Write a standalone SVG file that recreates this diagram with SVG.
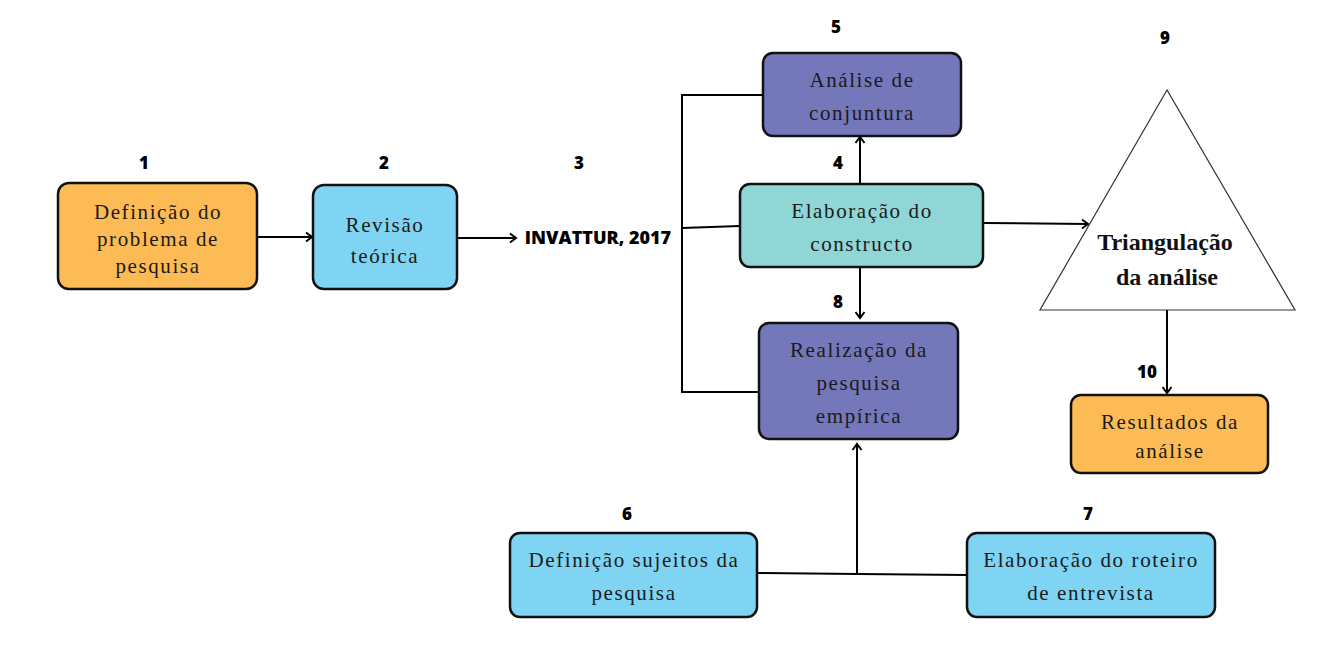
<svg xmlns="http://www.w3.org/2000/svg" width="1341" height="665" viewBox="0 0 1341 665">
<defs>
<marker id="arr" markerWidth="12" markerHeight="12" refX="9" refY="6" orient="auto" markerUnits="userSpaceOnUse">
<path d="M3,1.5 L9,6 L3,10.5" fill="none" stroke="#000" stroke-width="2"/>
</marker>
<style>
.box{stroke:#111;stroke-width:2.5}
.orange{fill:#FDBB55}
.blue{fill:#7FD4F3}
.purple{fill:#7478BB}
.teal{fill:#91D6D6}
.t{font-family:"Liberation Serif",serif;font-size:21px;letter-spacing:1.6px;fill:#1a1a1a;text-anchor:middle}
.n{font-family:"Open Sans",sans-serif;font-weight:800;font-size:17px;fill:#000;text-anchor:middle}
.c{fill:none;stroke:#000;stroke-width:2}
</style>
</defs>
<rect width="1341" height="665" fill="#fff"/>
<g id="connectors">
<line class="c" x1="257" y1="237" x2="312" y2="237" marker-end="url(#arr)"/>
<line class="c" x1="457" y1="238" x2="516" y2="238" marker-end="url(#arr)"/>
<polyline class="c" points="763,95 682,95 682,392 760,392"/>
<line class="c" x1="682" y1="228" x2="740" y2="226"/>
<line class="c" x1="860" y1="184" x2="860" y2="137" marker-end="url(#arr)"/>
<line class="c" x1="860" y1="267" x2="860" y2="318" marker-end="url(#arr)"/>
<line class="c" x1="983" y1="223" x2="1088" y2="224" marker-end="url(#arr)"/>
<line class="c" x1="1167" y1="310" x2="1167" y2="393" marker-end="url(#arr)"/>
<polyline class="c" points="757,573 858,574 967,575"/>
<line class="c" x1="857" y1="574" x2="857" y2="444" marker-end="url(#arr)"/>
</g>
<g id="n1">
<text class="n" x="144" y="169">1</text>
<rect class="box orange" x="58" y="183" width="199" height="106" rx="11"/>
<text class="t" x="158" y="219">Definição do</text>
<text class="t" x="158" y="246">problema de</text>
<text class="t" x="158" y="273">pesquisa</text>
</g>
<g id="n2">
<text class="n" x="384" y="169">2</text>
<rect class="box blue" x="313" y="185" width="144" height="104" rx="11"/>
<text class="t" x="385" y="232">Revisão</text>
<text class="t" x="385" y="263">teórica</text>
</g>
<g id="n3">
<text class="n" x="579" y="169">3</text>
<text x="598" y="244" font-family="Open Sans, sans-serif" font-weight="800" font-size="18" text-anchor="middle">INVATTUR, 2017</text>
</g>
<g id="n5">
<text class="n" x="836" y="33">5</text>
<rect class="box purple" x="763" y="53" width="198" height="83" rx="10"/>
<text class="t" x="862" y="87">Análise de</text>
<text class="t" x="862" y="120">conjuntura</text>
</g>
<g id="n4">
<text class="n" x="838" y="169">4</text>
<rect class="box teal" x="740" y="184" width="243" height="83" rx="10"/>
<text class="t" x="862" y="218">Elaboração do</text>
<text class="t" x="862" y="251">constructo</text>
</g>
<g id="n8">
<text class="n" x="838" y="308">8</text>
<rect class="box purple" x="759" y="323" width="199" height="116" rx="10"/>
<text class="t" x="859" y="357">Realização da</text>
<text class="t" x="859" y="390">pesquisa</text>
<text class="t" x="859" y="423">empírica</text>
</g>
<g id="n6">
<text class="n" x="627" y="520">6</text>
<rect class="box blue" x="510" y="533" width="247" height="84" rx="10"/>
<text class="t" x="634" y="567">Definição sujeitos da</text>
<text class="t" x="634" y="600">pesquisa</text>
</g>
<g id="n7">
<text class="n" x="1088" y="520">7</text>
<rect class="box blue" x="967" y="533" width="248" height="84" rx="10"/>
<text class="t" x="1091" y="567">Elaboração do roteiro</text>
<text class="t" x="1091" y="600">de entrevista</text>
</g>
<g id="n9">
<text class="n" x="1165" y="44">9</text>
<polygon points="1167,90 1040,310 1295,310" fill="#fff" stroke="#333" stroke-width="1.2"/>
<text x="1165" y="250" font-family="Liberation Serif, serif" font-weight="bold" font-size="24" text-anchor="middle" fill="#111">Triangulação</text>
<text x="1167" y="285" font-family="Liberation Serif, serif" font-weight="bold" font-size="24" text-anchor="middle" fill="#111">da análise</text>
</g>
<g id="n10">
<text class="n" x="1147" y="378">10</text>
<rect class="box orange" x="1071" y="395" width="197" height="78" rx="10"/>
<text class="t" x="1170" y="429">Resultados da</text>
<text class="t" x="1170" y="458">análise</text>
</g>
</svg>
